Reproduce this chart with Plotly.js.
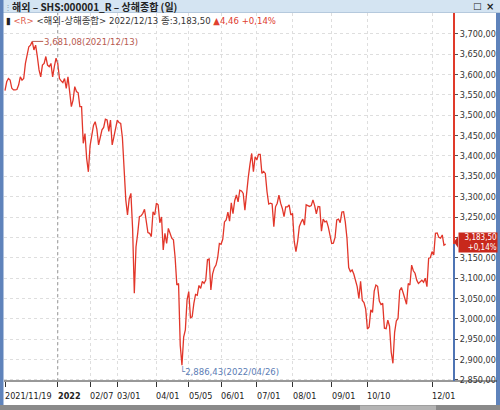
<!DOCTYPE html>
<html>
<head>
<meta charset="utf-8">
<script src="https://cdn.plot.ly/plotly-3.0.1.min.js"></script>
<style>html,body{margin:0;padding:0;background:#fff;}#chart{width:500px;height:410px;}</style>
</head>
<body>
<div id="chart"></div>
<script>
// ---- data (trading-day index -> close) ----
const closes = [
3560,3582,3590,3586,3566,3562,3562,3563,3574,3594,
3586,3590,3627,3648,3668,3672,3681.08,3660,3672,3644,
3611,3594,3623,3627,3644,3623,3619,3627,3594,3619,
3640,3627,3590,3584,3580,3590,3566,3594,3555,3521,
3537,3570,3558,3555,3521,3521,3431,3455,3394,3361,
3425,3450,3475,3484,3465,3427,3447,3464,3470,3490,
3488,3460,3488,3427,3447,3465,3488,3482,3480,3445,
3370,3292,3255,3295,3308,3222,3063,3177,3210,3251,
3253,3259,3269,3243,3212,3210,3202,3263,3255,3284,
3280,3236,3250,3169,3210,3185,3222,3210,3198,3194,
3150,3083,3087,2935,2886.43,2955,2973,3046,3067,3003,
3005,3038,3060,3058,3082,3075,3092,3087,3095,3145,
3147,3071,3110,3125,3132,3150,3185,3183,3196,3238,
3243,3262,3240,3285,3258,3290,3304,3287,3316,3314,
3308,3267,3318,3348,3380,3406,3361,3398,3390,3404,
3404,3357,3362,3357,3312,3282,3284,3282,3226,3275,
3284,3304,3284,3271,3251,3275,3275,3280,3255,3259,
3190,3165,3190,3227,3237,3245,3230,3280,3278,3276,
3278,3292,3278,3258,3276,3275,3215,3245,3238,3240,
3226,3202,3185,3186,3200,3243,3245,3236,3262,3263,
3238,3198,3126,3116,3120,3110,3095,3079,3050,3092,
3045,3040,3024,2975,2980,3022,3016,3068,3083,3080,
3044,3035,3038,2977,2976,2997,2982,2918,2891,2967,
2995,3001,3070,3077,3064,3048,3036,3087,3083,3132,
3118,3112,3095,3087,3090,3095,3090,3100,3079,3149,
3150,3165,3157,3210,3211,3200,3198,3206,3181,3183.5
];
const xTickIdx  = [0, 31, 50, 66, 89, 108, 127, 148, 169, 192, 213, 251];
const xTickText = ['2021/11/19','2022','02/07','03/01','04/01','05/05','06/01','07/01','08/01','09/01','10/10','12/01'];
const yTickVals = [2850,2900,2950,3000,3050,3100,3150,3200,3250,3300,3350,3400,3450,3500,3550,3600,3650,3700];
// the 3,200 label is hidden behind the last-price tag in the reference
const yTickText = ['2,850,00','2,900,00','2,950,00','3,000,00','3,050,00','3,100,00','3,150,00','','3,250,00','3,300,00','3,350,00','3,400,00','3,450,00','3,500,00','3,550,00','3,600,00','3,650,00','3,700,00'];
const highIdx = 16, highVal = 3681.08, highText = '3,681,08(2021/12/13)';
const lowIdx = 104, lowVal = 2886.43, lowText = '2,886,43(2022/04/26)';
const lastVal = 3183.5, lastText = '3,183,50', lastPct = '+0,14%';
const titleText = '해외 – SHS:000001_R – 상해종합 (일)';
const headerName = '&lt;해외-상해종합&gt; 2022/12/13 종:3,183,50';
const headerChg = '▲4,46 +0,14%';

// ---- layout geometry ----
const L = 4, R = 454, T = 13, B = 381, PW = R - L, PH = B - T;
const px = x => (x - L) / PW;
const py = y => (B - y) / PH;
const xRange = [-0.59, 263.9];
const yRange = [2847.5, 3750.8];
const NARROW = '"Liberation Sans Narrow", "Arial Narrow", "DejaVu Sans Condensed", "Noto Sans CJK KR", sans-serif';
const KR = '"Noto Sans CJK KR", "Liberation Sans", sans-serif';

const xs = closes.map((_, i) => i);

const trace = {
  x: xs, y: closes, type: 'scatter', mode: 'lines',
  line: {color: '#e2362a', width: 1.3}, hoverinfo: 'skip'
};

const shapes = [
  {type:'rect', xref:'paper', yref:'paper', x0:px(0), x1:px(500), y0:py(13), y1:py(0), fillcolor:'#d4e4f2', line:{width:0}},
  {type:'line', xref:'paper', yref:'paper', x0:px(0), x1:px(500), y0:py(12.5), y1:py(12.5), line:{color:'#b5c9dd', width:1}},
  {type:'rect', xref:'paper', yref:'paper', x0:px(0), x1:px(3.5), y0:py(405), y1:py(0), fillcolor:'#5f83bb', line:{width:0}},
  {type:'rect', xref:'paper', yref:'paper', x0:px(496), x1:px(500), y0:py(405), y1:py(13), fillcolor:'#5f83bb', line:{width:0}},
  {type:'rect', xref:'paper', yref:'paper', x0:px(0), x1:px(500), y0:py(410), y1:py(405), fillcolor:'#8a8a8a', line:{width:0}},
  {type:'rect', xref:'paper', yref:'paper', x0:px(360), x1:px(436), y0:py(410), y1:py(405.5), fillcolor:'#b4b4b4', line:{width:0}},
  {type:'line', xref:'paper', yref:'paper', x0:px(4), x1:px(497), y0:0, y1:0, line:{color:'#333', width:1}},
  {type:'line', xref:'x', yref:'paper', x0:31, x1:31, y0:0, y1:1, line:{color:'#9a9a9a', width:1, dash:'dot'}},
  {type:'line', xref:'paper', yref:'y', x0:1, x1:1, y0:lastVal, y1:yRange[1], line:{color:'#e03a2a', width:2}},
  {type:'line', xref:'paper', yref:'y', x0:1, x1:1, y0:yRange[0], y1:lastVal, line:{color:'#4e74b4', width:2}},
  {type:'path', xref:'paper', yref:'y', path:'M 1.0 ' + (lastVal + 5) + ' L ' + px(458) + ' ' + (lastVal + 19) + ' L ' + px(458) + ' ' + (lastVal - 9) + ' Z',
   fillcolor:'#c8281c', line:{width:0}},
];

const annotations = [
  {xref:'paper', yref:'paper', x:px(1.5), y:py(6.5), xanchor:'left', yanchor:'middle', showarrow:false,
   text:'⋮', font:{family:KR, size:8, color:'#8a9bb0'}},
  {xref:'paper', yref:'paper', x:px(11), y:py(6.5), xanchor:'left', yanchor:'middle', showarrow:false, borderpad:0,
   text:'<b>' + titleText + '</b>', font:{family:KR, size:10, color:'#222'}},
  {xref:'paper', yref:'paper', x:px(478), y:py(6.5), xanchor:'center', yanchor:'middle', showarrow:false, borderpad:0,
   text:'□', font:{family:'DejaVu Sans', size:9, color:'#222'}},
  {xref:'paper', yref:'paper', x:px(490), y:py(6.5), xanchor:'center', yanchor:'middle', showarrow:false, borderpad:0,
   text:'<b>×</b>', font:{family:'DejaVu Sans', size:10, color:'#222'}},
  {xref:'paper', yref:'paper', x:px(5), y:py(20), xanchor:'left', yanchor:'middle', showarrow:false, borderpad:0,
   text:'<span style="color:#222">▮</span> <span style="color:#e0604f">&lt;R&gt;</span> <span style="color:#333">' + headerName + '</span> <span style="color:#e0402f">' + headerChg + '</span>',
   font:{family:NARROW, size:9.5, color:'#333'}},
  {x:highIdx, y:highVal, xref:'x', yref:'y', text:highText, showarrow:true, arrowhead:0, arrowwidth:1,
   arrowcolor:'#b85a50', ax:11, ay:0, xanchor:'left', yanchor:'middle', standoff:0, borderpad:0,
   font:{family:NARROW, size:9.5, color:'#b85a50'}},
  {x:lowIdx, y:lowVal, xref:'x', yref:'y', text:'└' + lowText, showarrow:false, xanchor:'left', yanchor:'top',
   xshift:-3, yshift:1, borderpad:0, font:{family:NARROW, size:9.5, color:'#5b7db5'}},
  {x:1, y:lastVal, xref:'paper', yref:'y', xanchor:'left', yanchor:'middle', xshift:4, yshift:2, showarrow:false,
   text:lastText + '<br>' + lastPct, align:'right', bgcolor:'#c8281c', borderpad:0, width:38,
   font:{family:NARROW, size:8, color:'#fff'}},
];
xTickIdx.forEach((v, i) => {
  annotations.push({x:v, xref:'x', yref:'paper', y:py(396), xanchor:'left', yanchor:'middle', showarrow:false,
    xshift:-1, borderpad:0,
    text: xTickText[i] === '2022' ? '<b>2022</b>' : xTickText[i],
    font:{family:NARROW, size:9, color:'#222'}});
});

const layout = {
  width:500, height:410,
  margin:{l:L, r:500-R, t:T, b:410-B, pad:0},
  paper_bgcolor:'#ffffff', plot_bgcolor:'#ffffff',
  showlegend:false,
  xaxis:{range:xRange, tickvals:xTickIdx, showticklabels:false, ticks:'outside', ticklen:5, tickcolor:'#333',
         showgrid:true, gridcolor:'#dedede', griddash:'3px,3px', zeroline:false, showline:false, fixedrange:true},
  yaxis:{range:yRange, side:'right', tickvals:yTickVals, ticktext:yTickText, ticks:'outside', ticklen:3,
         tickcolor:'#555', tickfont:{family:NARROW, size:9, color:'#333'},
         showgrid:true, gridcolor:'#dedede', griddash:'3px,3px', zeroline:false, showline:false, fixedrange:true},
  shapes: shapes,
  annotations: annotations
};

Plotly.newPlot('chart', [trace], layout, {staticPlot:true, displayModeBar:false});
</script>
</body>
</html>
